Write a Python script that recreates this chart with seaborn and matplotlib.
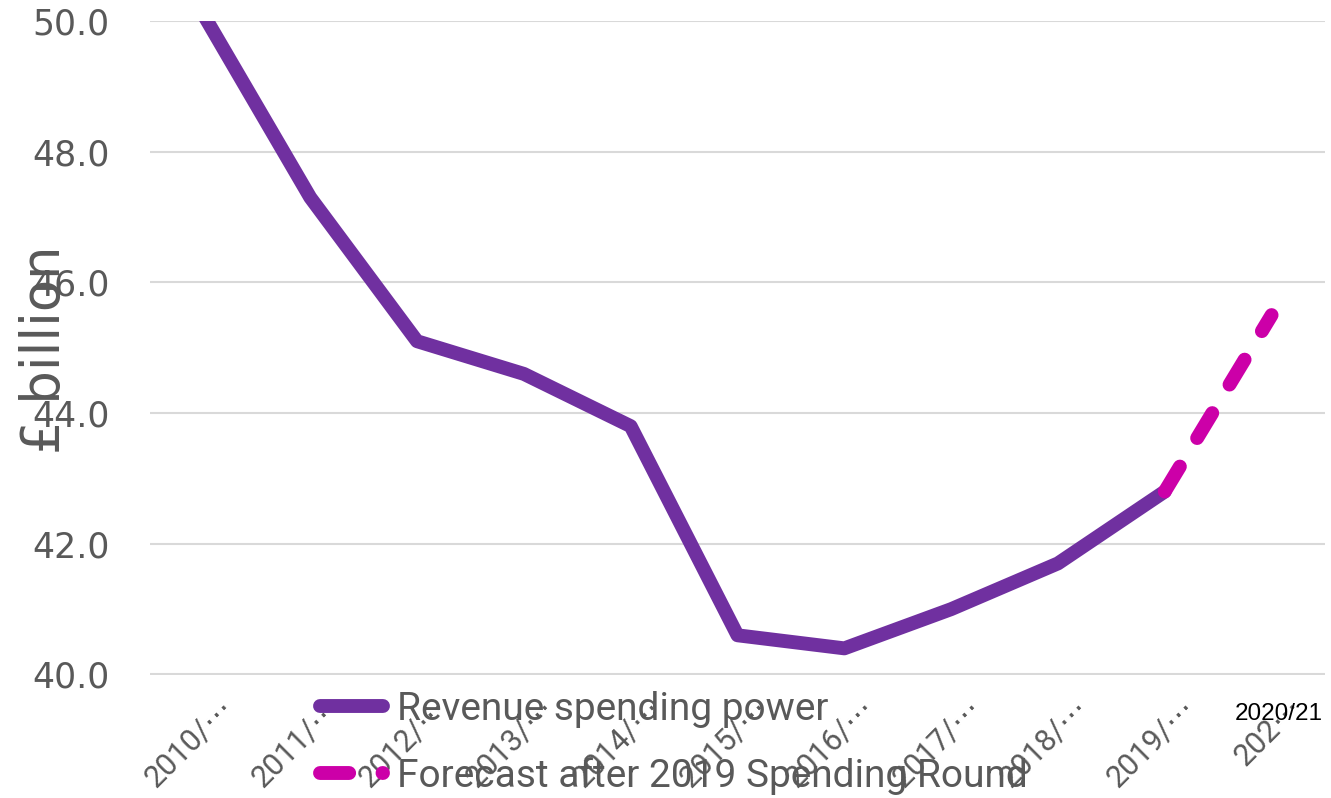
import numpy as np
import matplotlib
matplotlib.use("Agg")
import matplotlib.pyplot as plt
import matplotlib.transforms as mtransforms
import seaborn as sns

# data
years = ["2010/11", "2011/12", "2012/13", "2013/14", "2014/15", "2015/16",
         "2016/17", "2017/18", "2018/19", "2019/20", "2020/21"]
tick_labels = ["2010/⋯", "2011/⋯", "2012/⋯", "2013/⋯", "2014/⋯", "2015/⋯",
               "2016/⋯", "2017/⋯", "2018/⋯", "2019/⋯", "202⋯"]
spending_power = [50.1, 47.3, 45.1, 44.6, 43.8, 40.6, 40.4, 41.0, 41.7, 42.8]
forecast_years = ["2019/20", "2020/21"]
forecast = [42.8, 45.5]

purple = "#7030A0"
magenta = "#CC00A8"
grey = "#595959"

sns.set_theme(style="white")
plt.rcParams["font.family"] = ["DejaVu Sans"]
narrow = ["Roboto", "DejaVu Sans"]

fig = plt.figure(figsize=(13.31, 7.98), dpi=100)
ax = fig.add_axes([150 / 1331, 123.5 / 798, 1175 / 1331, 653.5 / 798])

x_main = np.arange(len(spending_power))
x_fc = np.array([years.index(y) for y in forecast_years])

sns.lineplot(x=x_main, y=spending_power, ax=ax, color=purple, linewidth=10,
             label="Revenue spending power", solid_capstyle="round",
             solid_joinstyle="round")
sns.lineplot(x=x_fc, y=forecast, ax=ax, color=magenta, linewidth=10,
             label="Forecast after 2019 Spending Round",
             dash_capstyle="round")
ax.lines[1].set_dashes((2.1, 2.4))

ax.set_xlim(-0.5, len(years) - 0.5)
ax.set_ylim(40, 50)
ax.set_yticks(np.arange(40, 51, 2))
ax.set_yticklabels([f"{v:.1f}" for v in np.arange(40, 51, 2)])
ax.yaxis.grid(True, color="#D9D9D9", linewidth=1.5)
ax.xaxis.grid(False)
ax.set_axisbelow(True)
sns.despine(ax=ax, left=True, bottom=True)
ax.tick_params(axis="y", length=0, pad=29, labelsize=25, labelcolor=grey)
ax.tick_params(axis="x", length=0, pad=0)
ax.set_xlabel("")
ax.set_ylabel("")

ax.set_xticks(range(len(years)))
ax.set_xticklabels(tick_labels, rotation=45, ha="right", va="center",
                   rotation_mode="anchor", fontsize=22, color=grey,
                   family=narrow)
offset = mtransforms.ScaledTranslation(26 / 100, -29 / 100, fig.dpi_scale_trans)
for lab in ax.get_xticklabels():
    lab.set_transform(lab.get_transform() + offset)

fig.text(45 / 1331, 1 - 350 / 798, "£ billion", rotation=90, ha="center",
         va="center", fontsize=38, color=grey)

fig.text(1279 / 1331, 1 - 714 / 798, "2020/21", ha="center", va="center",
         fontsize=17.5, color="black", family=["Liberation Sans", "DejaVu Sans"])

leg = ax.legend(handles=ax.lines[:2], loc="upper left",
                bbox_to_anchor=(320 / 1331, 1 - 691 / 798),
                bbox_transform=fig.transFigure, frameon=False,
                borderpad=0, borderaxespad=0, handlelength=1.62,
                handletextpad=0.36, labelspacing=0.75,
                prop={"family": narrow, "size": 28})
for t in leg.get_texts():
    t.set_color(grey)

fig.savefig("out.png", dpi=100, facecolor="white")
